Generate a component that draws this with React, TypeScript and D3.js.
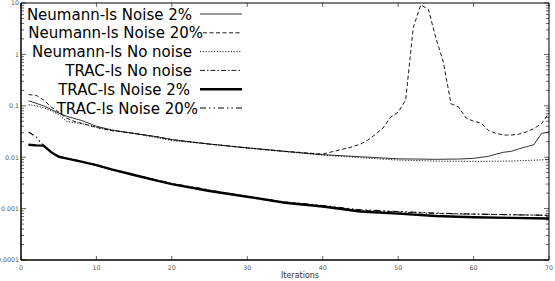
import React from 'react'
import * as d3 from 'd3'

// Iteration counts, one array per series
const neuNoNoiseIt = [1, 2, 3, 4, 5, 6, 7, 8, 10, 12, 15, 18, 20, 25, 30, 35, 40, 45, 50, 55, 60, 65, 70]
const neuNoNoise = [0.105, 0.1, 0.092, 0.08, 0.068, 0.05, 0.047, 0.045, 0.038, 0.033, 0.029, 0.024, 0.021, 0.018, 0.015, 0.0128, 0.011, 0.0098, 0.0088, 0.0084, 0.0083, 0.0084, 0.009]

const neu2It = [1, 2, 3, 4, 5, 6, 7, 8, 10, 12, 15, 18, 20, 25, 30, 35, 40, 45, 50, 55, 58, 60, 62, 63, 64, 65, 66, 67, 68, 69, 70]
const neu2 = [0.125, 0.112, 0.1, 0.085, 0.072, 0.063, 0.057, 0.052, 0.04, 0.034, 0.029, 0.025, 0.022, 0.018, 0.0152, 0.013, 0.0112, 0.0102, 0.0093, 0.0091, 0.0092, 0.0095, 0.0104, 0.0115, 0.0125, 0.013, 0.0145, 0.016, 0.0175, 0.029, 0.031]

const neu20It = [1, 2, 3, 4, 5, 6, 7, 8, 10, 12, 15, 18, 20, 25, 30, 35, 40, 41, 44, 45, 46, 47, 48, 49, 50, 51, 52, 53, 54, 55, 56, 57, 58, 59, 60, 61, 62, 63, 64, 65, 66, 67, 68, 69, 70]
const neu20 = [0.165, 0.16, 0.13, 0.095, 0.075, 0.058, 0.05, 0.046, 0.038, 0.033, 0.029, 0.025, 0.022, 0.018, 0.0152, 0.013, 0.0115, 0.0125, 0.016, 0.018, 0.0216, 0.028, 0.037, 0.06, 0.075, 0.13, 3.3, 9.2, 7.6, 2.1, 0.7, 0.11, 0.095, 0.058, 0.05, 0.046, 0.033, 0.029, 0.027, 0.027, 0.028, 0.031, 0.036, 0.045, 0.072]

const tracNoNoiseIt = [1, 2, 3, 4, 5, 6, 8, 10, 12, 15, 18, 20, 25, 30, 35, 40, 45, 50, 55, 60, 65, 70]
const tracNoNoise = [0.0175, 0.017, 0.0168, 0.0122, 0.0103, 0.0094, 0.0081, 0.0069, 0.0057, 0.0044, 0.0035, 0.003, 0.0022, 0.0017, 0.00132, 0.00112, 0.00092, 0.00086, 0.0008, 0.00078, 0.00076, 0.00074]

const trac2It = [1, 2, 3, 4, 5, 6, 8, 10, 12, 15, 18, 20, 25, 30, 35, 40, 45, 50, 55, 60, 65, 70]
const trac2 = [0.0175, 0.017, 0.0168, 0.0125, 0.0102, 0.0095, 0.0082, 0.007, 0.0058, 0.0045, 0.0035, 0.003, 0.0022, 0.0017, 0.0013, 0.0011, 0.00088, 0.0008, 0.00072, 0.00068, 0.00066, 0.00064]

const trac20It = [1, 2, 2.5, 3, 4, 5, 6, 8, 10, 12, 15, 18, 20, 25, 30, 35, 40, 45, 50, 55, 60, 65, 70]
const trac20 = [0.031, 0.025, 0.02, 0.017, 0.0123, 0.0104, 0.0096, 0.0083, 0.0071, 0.0058, 0.0046, 0.0036, 0.0031, 0.0023, 0.00172, 0.00135, 0.00115, 0.00095, 0.00088, 0.00082, 0.00078, 0.00076, 0.00074]

const xTicks = [0, 10, 20, 30, 40, 50, 60, 70]
const yTickLabels = ['10', '1', '0.1', '0.01', '0.001', '0.0001']
const yTickValues = [10, 1, 0.1, 0.01, 0.001, 0.0001]

const series = [
  { label: 'Neumann-ls Noise 2%', it: neu2It, v: neu2, w: 0.8, dash: '' },
  { label: 'Neumann-ls Noise 20%', it: neu20It, v: neu20, w: 0.9, dash: '4,2.5' },
  { label: 'Neumann-ls No noise', it: neuNoNoiseIt, v: neuNoNoise, w: 0.9, dash: '1.2,1.6' },
  { label: 'TRAC-ls No noise', it: tracNoNoiseIt, v: tracNoNoise, w: 0.9, dash: '5,2,1.5,2' },
  { label: 'TRAC-ls Noise 2%', it: trac2It, v: trac2, w: 2.4, dash: '' },
  { label: 'TRAC-ls Noise 20%', it: trac20It, v: trac20, w: 1.1, dash: '6,3,1.5,3,1.5,3' },
]

const W = 555
const H = 281
const L = 21
const R = 549
const T = 3
const B = 260
// where each legend label ends (the legend's own right-alignment is uneven)
const legendTextEnd = [192, 203, 192, 192, 190, 198]

export default function App() {
  const x = d3.scaleLinear().domain([0, 70]).range([L, R])
  const y = d3.scaleLog().domain([1e-4, 10]).range([B, T])
  const minor = y.ticks()

  const line = d3
    .line<[number, number]>()
    .x((d) => x(d[0]))
    .y((d) => y(d[1]))

  const tickFont = { fontFamily: 'DejaVu Sans', fontSize: 6.3, fill: '#555' }

  return (
    <svg width={W} height={H} style={{ position: 'absolute', left: 0, top: 0 }}>
      <rect width={W} height={H} fill="white" />
      <defs>
        <clipPath id="plot">
          <rect x={L} y={T} width={R - L} height={B - T} />
        </clipPath>
      </defs>

      {/* log minor / major ticks on left and right */}
      {minor.map((t, i) => {
        const major = Math.abs(Math.log10(t) - Math.round(Math.log10(t))) < 1e-6
        const len = major ? 5 : 3
        return (
          <g key={'yt' + i} stroke="#222" strokeWidth={0.7}>
            <line x1={L} x2={L + len} y1={y(t)} y2={y(t)} />
            <line x1={R} x2={R - len} y1={y(t)} y2={y(t)} />
          </g>
        )
      })}
      {xTicks.map((t) => (
        <g key={'xt' + t} stroke="#222" strokeWidth={0.7}>
          <line x1={x(t)} x2={x(t)} y1={B} y2={B - 4} />
          <line x1={x(t)} x2={x(t)} y1={T} y2={T + 4} />
        </g>
      ))}

      <g clipPath="url(#plot)" fill="none" stroke="black" strokeLinejoin="round">
        {series.map((s, i) => (
          <path
            key={i}
            d={line(s.it.map((d, j) => [d, s.v[j]] as [number, number])) || ''}
            strokeWidth={s.w}
            strokeDasharray={s.dash || undefined}
          />
        ))}
      </g>

      {/* frame */}
      <line x1={L} x2={R} y1={T} y2={T} stroke="black" strokeWidth={1} />
      <line x1={R} x2={R} y1={T} y2={B} stroke="black" strokeWidth={1} />
      <line x1={L} x2={L} y1={T} y2={B} stroke="black" strokeWidth={1.5} />
      <line x1={L} x2={R} y1={B} y2={B} stroke="black" strokeWidth={1.5} />

      {yTickValues.map((t, i) => (
        <text key={'yl' + i} x={L - 2} y={y(t) + 2.3} textAnchor="end" {...tickFont}>
          {yTickLabels[i]}
        </text>
      ))}
      {xTicks.map((t) => (
        <text key={'xl' + t} x={x(t)} y={B + 10} textAnchor="middle" {...tickFont}>
          {t}
        </text>
      ))}
      <text x={300} y={B + 18} textAnchor="middle" fontFamily="DejaVu Sans" fontSize={8} fill="#333">
        Iterations
      </text>

      {/* legend */}
      {series.map((s, i) => {
        const ly = 14 + i * 18.8
        return (
          <g key={'lg' + i}>
            <text x={legendTextEnd[i]} y={ly + 5.5} textAnchor="end" fontFamily="DejaVu Sans" fontSize={15} fill="black">
              {s.label}
            </text>
            <line
              x1={Math.max(200, legendTextEnd[i])}
              x2={242}
              y1={ly}
              y2={ly}
              stroke="black"
              strokeWidth={s.w}
              strokeDasharray={s.dash || undefined}
            />
          </g>
        )
      })}
    </svg>
  )
}
